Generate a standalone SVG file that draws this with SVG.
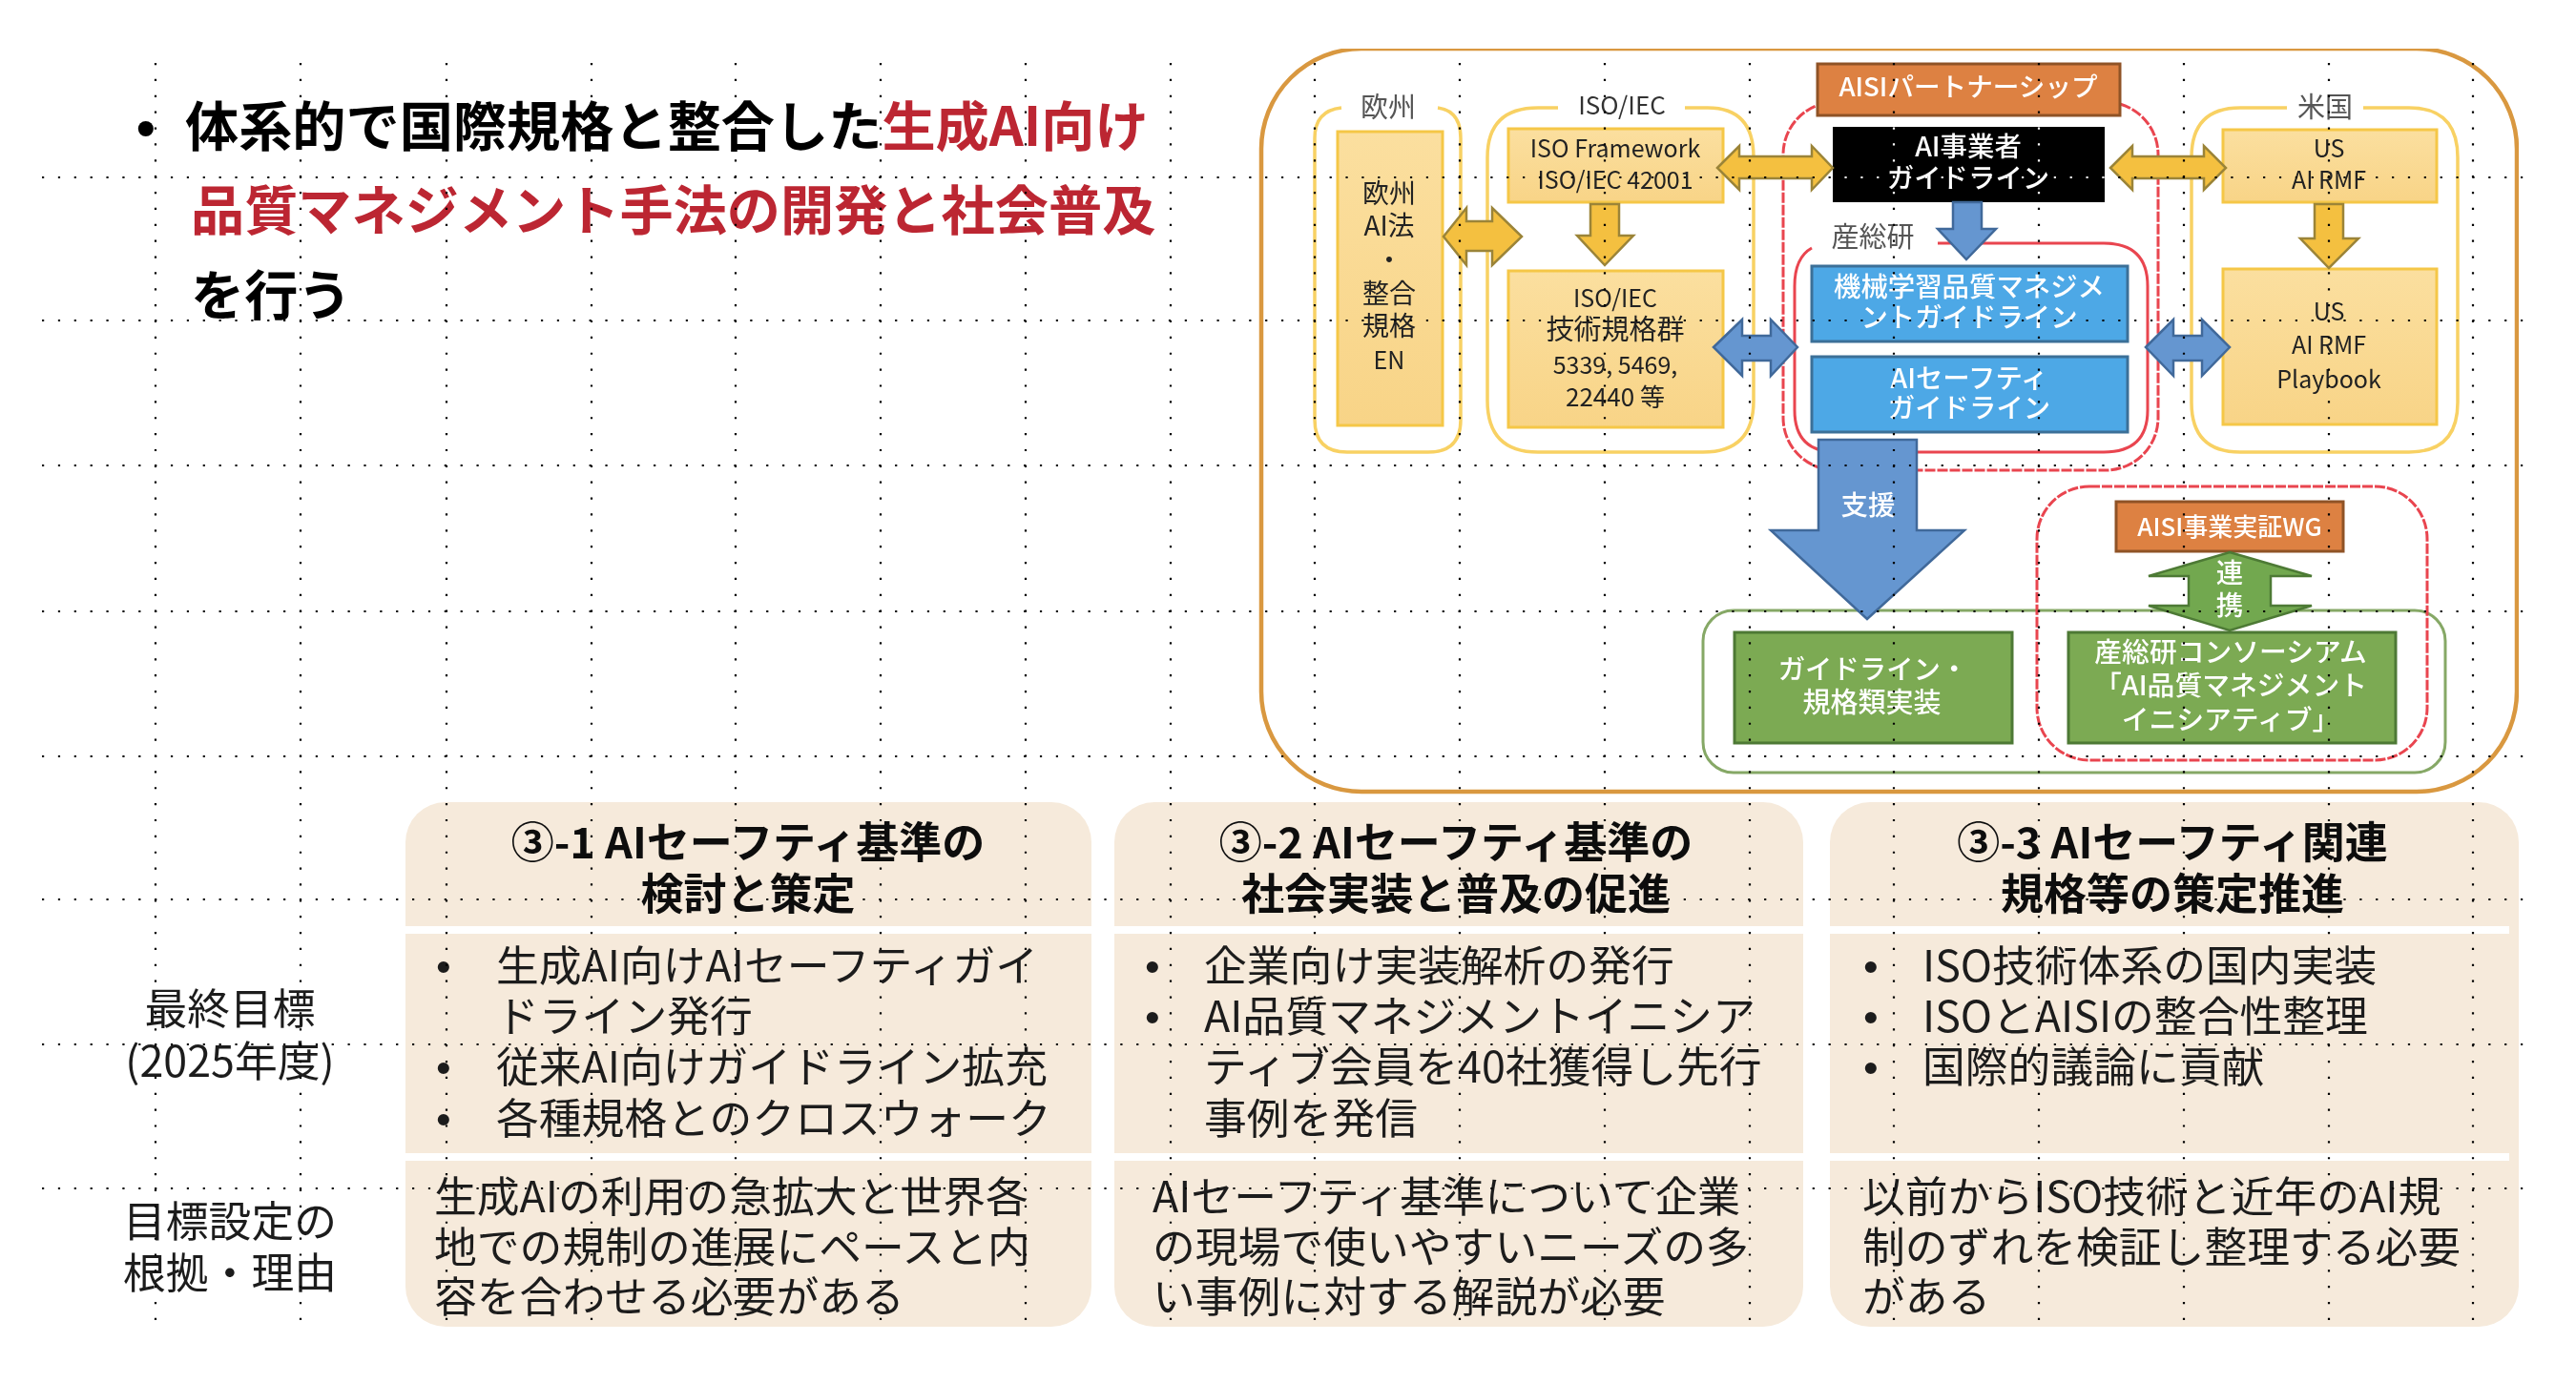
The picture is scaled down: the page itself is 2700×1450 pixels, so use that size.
<svg xmlns="http://www.w3.org/2000/svg" width="2700" height="1450" viewBox="0 0 2700 1450">
<style>
text{font-family:"Noto Sans CJK JP","Noto Sans",sans-serif;fill:#1e1e1e}
.h1{font-size:56.2px;font-weight:700;fill:#000}
.red{fill:#BC2833}
.hd{font-size:45px;font-weight:700;fill:#111;text-anchor:middle}
.b{font-size:44.8px}
.dot{font-size:44.8px;font-family:"Liberation Sans",sans-serif}
.lab{font-size:44.8px;text-anchor:middle}
.cap{font-size:29px;text-anchor:middle;fill:#555}
.t{font-size:29px;text-anchor:middle;fill:#222}
.l{font-size:25px;text-anchor:middle;fill:#222}
.w{font-size:28.4px;text-anchor:middle;fill:#fff;font-weight:500}
.col{fill:#F6EADB}
.gap{fill:#fff}
.grp{fill:none;stroke:#F8D164;stroke-width:3.5}
.redl{fill:none;stroke:#E9444F;stroke-width:3}
.dash{stroke-dasharray:11 2}
.yb{fill:url(#yg);stroke:#F5C746;stroke-width:3}
.blu{fill:#4EA8E6;stroke:#3B6F98;stroke-width:3}
.org{fill:#DD8142;stroke:#8F5227;stroke-width:3}
.grn{fill:#7BAA52;stroke:#4E7935;stroke-width:3}
.ya{fill:#F4C03F;stroke:#9B8438;stroke-width:2.5}
.ba{fill:#6596D0;stroke:#41699A;stroke-width:2.5}
.ga{fill:#72A84F;stroke:#4D7A35;stroke-width:2.5}
.grid line{stroke:#000;stroke-width:2.2;stroke-dasharray:2.2 14.67}
.gridw line{stroke:#fff;stroke-width:2.2;stroke-dasharray:2.2 14.67}
</style>
<defs>
<linearGradient id="yg" x1="0" y1="0" x2="0" y2="1"><stop offset="0" stop-color="#FBDF9F"/><stop offset="1" stop-color="#F8D487"/></linearGradient>
<filter id="soft" x="0" y="0" width="1" height="1"><feGaussianBlur stdDeviation="0.7"/></filter>
<clipPath id="blk"><rect x="1921" y="133" width="285" height="79"/></clipPath>
</defs>
<rect width="2700" height="1450" fill="#fff"/>
<g filter="url(#soft)">
<g id="headline">
<text x="143" y="153" class="h1" style="font-family:'Liberation Sans',sans-serif">•</text>
<text x="194" y="153" class="h1">体系的で国際規格と整合した<tspan class="red">生成AI向け</tspan></text>
<text x="200" y="241" class="h1 red">品質マネジメント手法の開発と社会普及</text>
<text x="200" y="330" class="h1">を行う</text>
</g>
<g id="outer-frame"><rect x="1322" y="51" width="1316" height="779" rx="105" fill="#fff" stroke="#D9983F" stroke-width="4.5"/></g>
<g id="group-eu"><path class="grp" d="M1507 113Q1531 116 1531 145V440Q1531 474 1497 474H1412Q1378 474 1378 440V145Q1378 116 1406 113"/><text x="1455" y="123" class="cap">欧州</text></g>
<g id="group-iso"><path class="grp" d="M1766 113H1790Q1838 113 1838 165V420Q1838 474 1785 474H1612Q1559 474 1559 420V165Q1559 113 1612 113H1633"/><text x="1700" y="120" class="l" style="font-size:26px;fill:#333">ISO/IEC</text></g>
<g id="group-aisi"><rect class="redl dash" x="1869" y="107" width="393" height="386" rx="55"/></g>
<g id="group-aist"><path class="redl" d="M2031 255H2205Q2251 255 2251 300V430Q2251 474 2205 474H1925Q1881 474 1881 430V300Q1881 270 1899 260"/><text x="1963" y="259" class="cap">産総研</text></g>
<g id="group-us"><path class="grp" d="M2477 113H2525Q2576 113 2576 165V422Q2576 474 2525 474H2348Q2297 474 2297 422V165Q2297 113 2348 113H2397"/><text x="2437" y="123" class="cap">米国</text></g>
<g id="group-impl"><rect x="1785" y="640" width="778" height="170" rx="32" fill="none" stroke="#86A866" stroke-width="3"/></g>
<g id="group-wg"><rect class="redl dash" x="2135" y="510" width="409" height="287" rx="55"/></g>

<g id="node-eu-law"><rect class="yb" x="1402" y="138" width="110" height="308"/>
<text x="1456" y="213" class="t" style="font-size:28px">欧州</text><text x="1456" y="247" class="t" style="font-size:28px">AI法</text><text x="1456" y="283" class="t" style="font-size:28px">・</text><text x="1456" y="318" class="t" style="font-size:28px">整合</text><text x="1456" y="352" class="t" style="font-size:28px">規格</text><text x="1456" y="387" class="l">EN</text></g>
<g id="node-iso-fw"><rect class="yb" x="1581" y="135" width="225" height="77"/>
<text x="1693" y="165" class="l">ISO Framework</text><text x="1693" y="198" class="l">ISO/IEC 42001</text></g>
<g id="node-iso-tech"><rect class="yb" x="1581" y="284" width="225" height="164"/>
<text x="1693" y="322" class="l">ISO/IEC</text><text x="1693" y="356" class="t">技術規格群</text><text x="1693" y="392" class="l">5339, 5469,</text><text x="1693" y="426" class="l" style="font-size:26px">22440 等</text></g>
<g id="node-aisi-partner"><rect class="org" x="1905" y="67" width="317" height="54"/><text x="2063" y="101" class="w" style="font-size:27.6px">AISIパートナーシップ</text></g>
<g id="node-operators"><rect x="1921" y="133" width="285" height="79" fill="#000"/><text x="2063" y="164" class="w">AI事業者</text><text x="2063" y="197" class="w">ガイドライン</text></g>
<g id="node-ml"><rect class="blu" x="1899" y="279" width="331" height="79"/><text x="2064" y="311" class="w">機械学習品質マネジメ</text><text x="2064" y="343" class="w">ントガイドライン</text></g>
<g id="node-safety"><rect class="blu" x="1899" y="374" width="331" height="79"/><text x="2064" y="407" class="w">AIセーフティ</text><text x="2064" y="438" class="w">ガイドライン</text></g>
<g id="node-us-rmf"><rect class="yb" x="2330" y="136" width="224" height="76"/><text x="2441" y="165" class="l">US</text><text x="2441" y="198" class="l">AI RMF</text></g>
<g id="node-us-playbook"><rect class="yb" x="2330" y="282" width="224" height="163"/><text x="2441" y="336" class="l">US</text><text x="2441" y="371" class="l">AI RMF</text><text x="2441" y="407" class="l">Playbook</text></g>
<g id="node-wg"><rect class="org" x="2218" y="526" width="238" height="52"/><text x="2337" y="562" class="w" style="font-size:26px">AISI事業実証WG</text></g>
<g id="node-impl"><rect class="grn" x="1818" y="663" width="291" height="116"/><text x="1963" y="712" class="w">ガイドライン・</text><text x="1962" y="747" class="w" style="font-size:29px">規格類実装</text></g>
<g id="node-consortium"><rect class="grn" x="2168" y="663" width="343" height="116"/><text x="2338" y="694" class="w" style="font-size:28.8px">産総研コンソーシアム</text><text x="2338" y="729" class="w" style="font-size:28.8px">「AI品質マネジメント</text><text x="2338" y="765" class="w" style="font-size:28.8px">イニシアティブ」</text></g>

<g id="connectors">
<polygon class="ya" points="1513,248 1537,218 1537,232 1564,232 1564,218 1595,248 1564,278 1564,263 1537,263 1537,278"/>
<polygon class="ya" points="1667,214 1697,214 1697,247 1712,247 1682,278 1653,247 1667,247"/>
<polygon class="ya" points="1800,176 1823,153 1823,164 1899,164 1899,153 1921,176 1899,199 1899,187 1823,187 1823,199"/>
<polygon class="ya" points="2212,176 2235,153 2235,164 2310,164 2310,153 2333,176 2310,199 2310,187 2235,187 2235,199"/>
<polygon class="ya" points="2426,214 2456,214 2456,250 2472,250 2441,281 2411,250 2426,250"/>
<polygon class="ba" points="1796,364 1826,335 1826,352 1856,352 1856,335 1884,364 1856,394 1856,378 1826,378 1826,394"/>
<polygon class="ba" points="2249,364 2278,335 2278,352 2308,352 2308,335 2337,364 2308,394 2308,378 2278,378 2278,394"/>
<polygon class="ba" points="2047,212 2077,212 2077,240 2092,240 2061,272 2031,240 2047,240"/>
<g id="arrow-support"><polygon class="ba" points="1906,461 2009,461 2009,556 2059,556 1957,649 1856,556 1906,556"/><text x="1958" y="540" class="w">支援</text></g>
<g id="arrow-link"><polygon class="ga" points="2337,579 2423,604 2380,604 2380,635 2423,635 2337,661 2252,635 2294,635 2294,604 2252,604"/><text x="2337" y="611" class="w">連</text><text x="2337" y="645" class="w">携</text></g>
</g>

<g id="labels">
<text x="241" y="1074" class="lab">最終目標</text><text x="241" y="1129" class="lab">(2025年度)</text>
<text x="241" y="1297" class="lab">目標設定の</text><text x="241" y="1351" class="lab">根拠・理由</text>
</g>
<g id="col-1"><rect class="col" x="425" y="841" width="719" height="550" rx="42"/><rect class="gap" x="425" y="971" width="719" height="8"/><rect class="gap" x="425" y="1209" width="719" height="8"/>
<text x="784" y="900" class="hd">③-1 AIセーフティ基準の</text><text x="784" y="954" class="hd">検討と策定</text>
<text x="457" y="1029" class="dot">•</text><text x="520" y="1029" class="b">生成AI向けAIセーフティガイ</text><text x="520" y="1082" class="b">ドライン発行</text>
<text x="457" y="1135" class="dot">•</text><text x="520" y="1135" class="b">従来AI向けガイドライン拡充</text>
<text x="457" y="1189" class="dot">•</text><text x="520" y="1189" class="b">各種規格とのクロスウォーク</text>
<text x="455" y="1271" class="b">生成AIの利用の急拡大と世界各</text><text x="455" y="1324" class="b">地での規制の進展にペースと内</text><text x="455" y="1376" class="b">容を合わせる必要がある</text></g>
<g id="col-2"><rect class="col" x="1168" y="841" width="722" height="550" rx="42"/><rect class="gap" x="1168" y="971" width="722" height="8"/><rect class="gap" x="1168" y="1209" width="722" height="8"/>
<text x="1526" y="900" class="hd">③-2 AIセーフティ基準の</text><text x="1526" y="954" class="hd">社会実装と普及の促進</text>
<text x="1200" y="1029" class="dot">•</text><text x="1262" y="1029" class="b">企業向け実装解析の発行</text>
<text x="1200" y="1082" class="dot">•</text><text x="1262" y="1082" class="b">AI品質マネジメントイニシア</text><text x="1262" y="1135" class="b">ティブ会員を40社獲得し先行</text><text x="1262" y="1189" class="b">事例を発信</text>
<text x="1208" y="1271" class="b">AIセーフティ基準について企業</text><text x="1208" y="1324" class="b">の現場で使いやすいニーズの多</text><text x="1208" y="1376" class="b">い事例に対する解説が必要</text></g>
<g id="col-3"><rect class="col" x="1918" y="841" width="722" height="550" rx="42"/><rect class="gap" x="1918" y="971" width="712" height="8"/><rect class="gap" x="1918" y="1209" width="712" height="8"/>
<text x="2277" y="900" class="hd">③-3 AIセーフティ関連</text><text x="2277" y="954" class="hd">規格等の策定推進</text>
<text x="1953" y="1029" class="dot">•</text><text x="2015" y="1029" class="b">ISO技術体系の国内実装</text>
<text x="1953" y="1082" class="dot">•</text><text x="2015" y="1082" class="b">ISOとAISIの整合性整理</text>
<text x="1953" y="1135" class="dot">•</text><text x="2015" y="1135" class="b">国際的議論に貢献</text>
<text x="1952" y="1271" class="b">以前からISO技術と近年のAI規</text><text x="1952" y="1324" class="b">制のずれを検証し整理する必要</text><text x="1952" y="1376" class="b">がある</text></g>
</g>
<g id="grid" class="grid">
<line x1="44" y1="186" x2="2645" y2="186"/><line x1="44" y1="336" x2="2645" y2="336"/><line x1="44" y1="488" x2="2645" y2="488"/><line x1="44" y1="641" x2="2645" y2="641"/><line x1="44" y1="793" x2="2645" y2="793"/><line x1="44" y1="943" x2="2645" y2="943"/><line x1="44" y1="1095" x2="2645" y2="1095"/><line x1="44" y1="1246" x2="2645" y2="1246"/>
<line x1="163" y1="66" x2="163" y2="1385"/><line x1="315" y1="66" x2="315" y2="1385"/><line x1="468" y1="66" x2="468" y2="1385"/><line x1="620" y1="66" x2="620" y2="1385"/><line x1="771" y1="66" x2="771" y2="1385"/><line x1="923" y1="66" x2="923" y2="1385"/><line x1="1075" y1="66" x2="1075" y2="1385"/><line x1="1227" y1="66" x2="1227" y2="1385"/><line x1="1378" y1="66" x2="1378" y2="1385"/><line x1="1530" y1="66" x2="1530" y2="1385"/><line x1="1682" y1="66" x2="1682" y2="1385"/><line x1="1834" y1="66" x2="1834" y2="1385"/><line x1="1985" y1="66" x2="1985" y2="1385"/><line x1="2137" y1="66" x2="2137" y2="1385"/><line x1="2289" y1="66" x2="2289" y2="1385"/><line x1="2441" y1="66" x2="2441" y2="1385"/><line x1="2592" y1="66" x2="2592" y2="1385"/>
</g>
<g id="grid-on-black" class="gridw" clip-path="url(#blk)">
<line x1="44" y1="186" x2="2645" y2="186"/><line x1="1985" y1="66" x2="1985" y2="1385"/><line x1="2137" y1="66" x2="2137" y2="1385"/>
</g>
</svg>
